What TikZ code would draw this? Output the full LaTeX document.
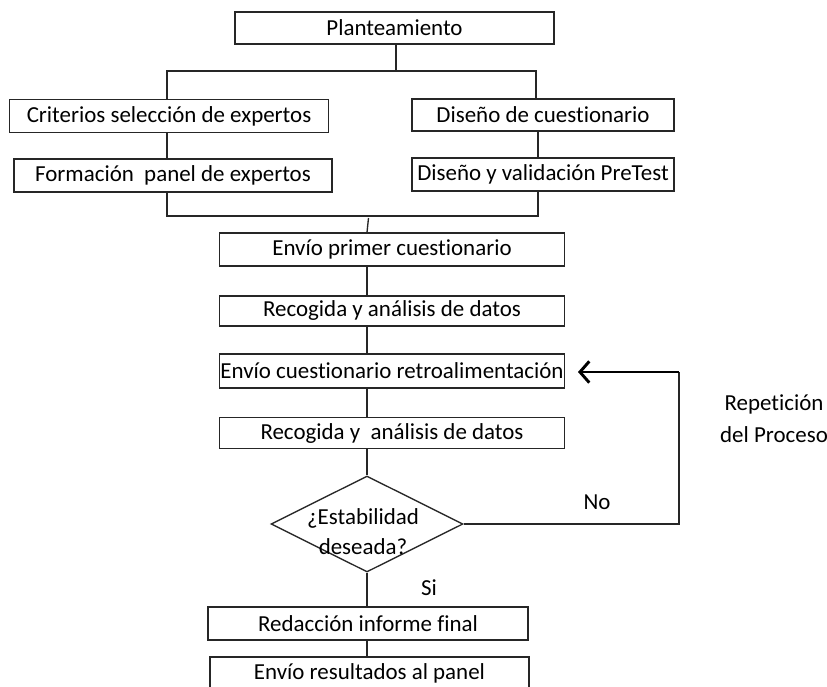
\documentclass[tikz,border=0pt]{standalone}
\usepackage{fontspec}
\setmainfont[Ligatures=NoCommon]{Carlito}
\usetikzlibrary{shapes.geometric,arrows.meta}
\begin{document}
\begin{tikzpicture}[x=0.75pt,y=-0.75pt,
  lbl/.style={font=\fontsize{17.2}{22.5}\selectfont, text=black, inner sep=0pt},
  box/.style args={#1/#2}{draw=black!85, line width=1pt, lbl, minimum width=#1*0.75pt, minimum height=#2*0.75pt, inner sep=0pt},
  conn/.style={draw=black!85, line width=1pt},
  decision/.style={draw=black!85, line width=1pt, diamond, aspect=2, inner sep=0pt, minimum width=192*0.75pt, minimum height=96*0.75pt}]
\useasboundingbox (0,0) rectangle (827,686);
\fill[white] (0,0) rectangle (827,686);

% boxes
\node[box=319/32] (plan) at (394.5,28) {Planteamiento};
\node[box=319/33] (crit) at (169,116) {Criterios selección de expertos};
\node[box=318/33] (form) at (173,175.5) {Formación\ \ panel de expertos};
\node[box=262/32] (dcue) at (543,115) {Diseño de cuestionario};
\node[box=262/33] (dval) at (543,174.5) {Diseño y validación PreTest};
\node[box=345/33] (env1) at (392,249.5) {Envío primer cuestionario};
\node[box=345/30] (rec1) at (392,311) {Recogida y análisis de datos};
\node[box=345/34] (env2) at (392,371) {Envío cuestionario retroalimentación};
\node[box=345/31] (rec2) at (392,433) {Recogida y\ \ análisis de datos};
\node[decision] (dec) at (367,524) {};
\node[lbl, align=center] (dectxt) at (363,532) {¿Estabilidad\\deseada?};
\node[box=320/33] (red) at (368,623.5) {Redacción informe final};
\node[box=319/33] (envr) at (369.5,673.5) {Envío resultados al panel};

% labels
\node[lbl] (no) at (597,502) {No};
\node[lbl] (si) at (429,588) {Si};
\node[lbl, align=center, font=\fontsize{17.2}{24}\selectfont] (rep) at (774,419) {Repetición\\del Proceso};

% coordinates
\coordinate (topM) at (396,71);
\coordinate (topL) at (167,71);
\coordinate (topR) at (536,71);
\coordinate (midR) at (538,71);
\coordinate (botL) at (167,216);
\coordinate (botR) at (538,216);
\coordinate (jt) at (368.5,218);
\coordinate (turnB) at (679,524);
\coordinate (turnT) at (679,372);
\coordinate (arrTip) at (578,372);

% connectors
\draw[conn] (plan.south -| topM) -- (topM);
\draw[conn] (crit.north -| topL) -- (topL) -- (topR) -- (dcue.north -| topR);
\draw[conn] (crit.south -| topL) -- (form.north -| topL);
\draw[conn] (dcue.south -| midR) -- (dval.north -| midR);
\draw[conn] (form.south -| botL) -- (botL) -- (botR) -- (dval.south -| botR);
\draw[conn] (jt) -- (env1.north -| dec);
\draw[conn] (env1.south -| dec) -- (rec1.north -| dec);
\draw[conn] (rec1.south -| dec) -- (env2.north -| dec);
\draw[conn] (env2.south -| dec) -- (rec2.north -| dec);
\draw[conn] (rec2.south -| dec) -- (dec.north);
\draw[conn] (dec.south) -- (red.north -| dec);
\draw[conn] (red.south -| dec) -- (envr.north -| dec);
\draw[conn, line width=1.2pt] (dec.east) -- (turnB) -- (turnT);
\draw[draw=black, line width=2.2pt, -{Straight Barb[length=7pt,width=16pt]}] (turnT) -- (arrTip);
\end{tikzpicture}
\end{document}
